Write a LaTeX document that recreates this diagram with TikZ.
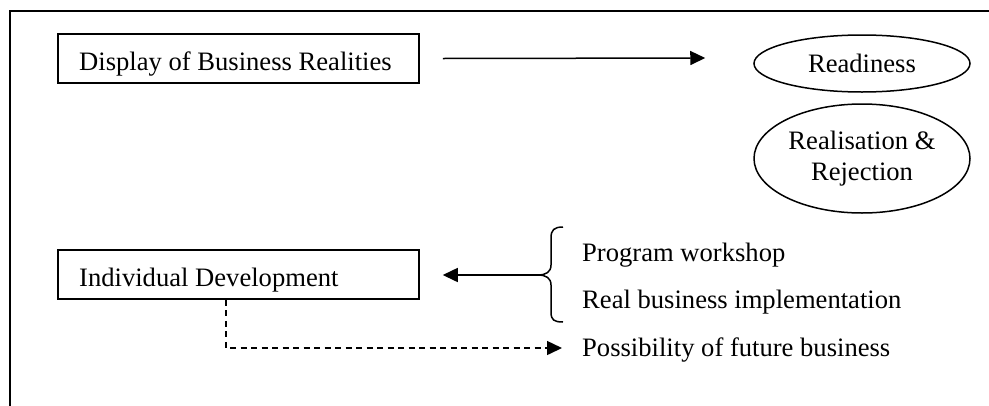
\documentclass[tikz,border=0pt]{standalone}
\usepackage{fontspec}
\setmainfont{Liberation Serif}
\usetikzlibrary{arrows.meta,shapes.geometric}
\begin{document}
\begin{tikzpicture}[x=1pt,y=-1pt,
  every node/.style={font=\fontsize{26.6}{31}\selectfont},
  frame/.style={line width=2pt},
  boxnode/.style={draw,line width=1.5pt,rectangle,minimum width=361pt,minimum height=49pt,inner sep=0pt},
  ovalnode/.style={draw,line width=1.5pt,ellipse,inner sep=0pt,align=center},
  txt/.style={inner sep=0pt,anchor=base west},
  arr/.style={line width=1.5pt,-{Triangle[length=15pt,width=14pt]}},
  darr/.style={line width=1.5pt,dash pattern=on 6pt off 4.5pt,-{Triangle[length=15pt,width=14pt]}},
  bracestyle/.style={line width=1.5pt}]
\useasboundingbox (0,0) rectangle (989,405);
\draw[frame] (10,406) -- (10,10.5) -- (990,10.5);
% boxes
\node[boxnode] (b1) at (238.5,58.5) {};
\node[txt] (t1) at (79,70) {Display of Business Realities};
\node[boxnode] (b2) at (238.5,274.5) {};
\node[txt] (t2) at (79,286) {Individual Development};
% ellipses
\node[ovalnode,minimum width=216pt,minimum height=57pt] (r1) at (862,63.5) {Readiness};
\node[ovalnode,minimum width=216pt,minimum height=109pt] (r2) at (862,158.5) {Realisation \&\\Rejection};
% list items
\node[txt] (p1) at (582,261) {Program workshop};
\node[txt] (p2) at (582,308) {Real business implementation};
\node[txt] (p3) at (582,356) {Possibility of future business};
% brace
\coordinate (bt) at (538,275);
\draw[bracestyle] (563,227) .. controls (554,227) and (551,230) .. (551,238) -- (551,265)
  .. controls (551,272) and (546,275) .. (bt)
  .. controls (546,275) and (551,278) .. (551,285) -- (551,312)
  .. controls (551,320) and (554,322) .. (563,322);
% arrows
\draw[arr] ([xshift=23pt]b1.east) -- ([xshift=-48pt,yshift=0.5pt]r1.west |- b1.east);
\draw[arr] (bt) -- ([xshift=23pt]b2.east |- bt);
\draw[darr] ([xshift=-12.5pt]b2.south) |- ([xshift=-20pt,yshift=1.5pt]p3.west);
\end{tikzpicture}
\end{document}
